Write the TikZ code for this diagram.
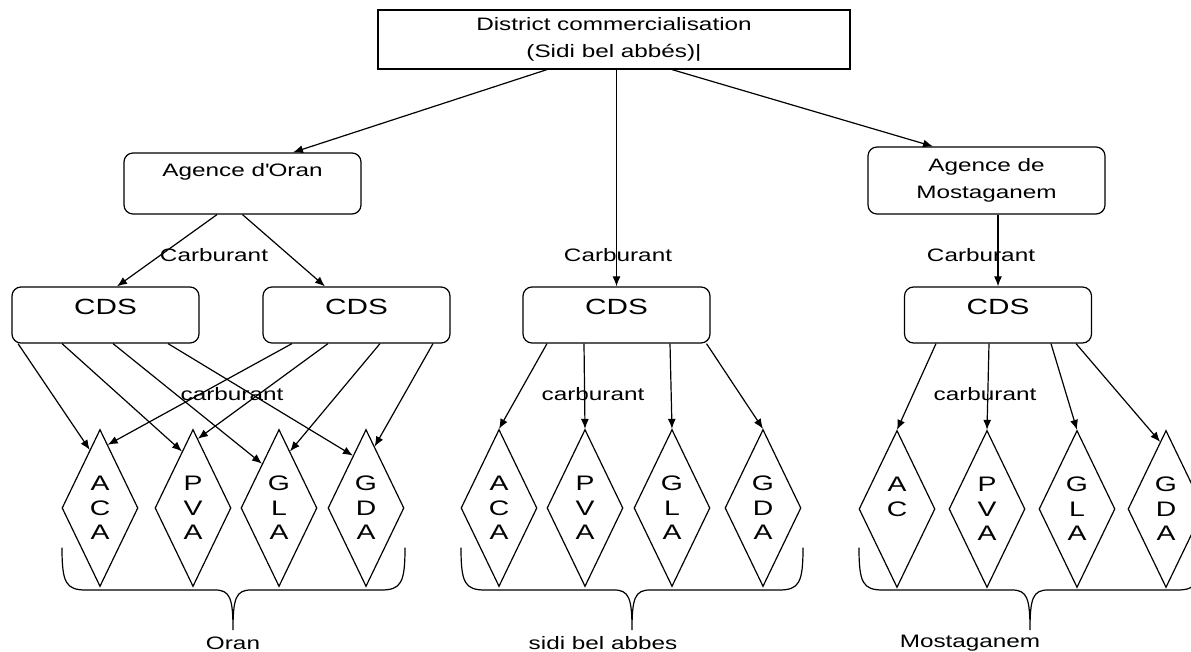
\documentclass[tikz,border=0pt]{standalone}
\usepackage{fontspec}
\setmainfont{Liberation Sans}[FakeStretch=1.35]
\usetikzlibrary{shapes.geometric,arrows.meta}

\newcommand\txtfont{\fontsize{18}{27}\selectfont}
\newcommand\cdsfont{\fontsize{22}{26}\selectfont}
\newcommand\diafont{\fontsize{21}{24.5}\selectfont}

\begin{document}
\begin{tikzpicture}[x=1pt,y=-1pt]
    \tikzset{
        flow/.style={-{Latex[length=10pt,width=8pt]}, line width=1.2pt},
        office/.style={draw, line width=1.2pt, rounded corners=9pt, minimum width=237pt, font=\txtfont},
        depot/.style={draw, line width=1.2pt, rounded corners=9pt, minimum width=187pt, minimum height=56pt,
                      font=\cdsfont, text height=16pt, text depth=18pt},
        station/.style={diamond, draw, line width=1.2pt, aspect=0.48, minimum width=76pt, minimum height=157pt,
                        inner sep=0pt, align=center, font=\diafont},
        tag/.style={font=\txtfont},
        bracket/.style={line width=1.2pt, line cap=round},
    }
    \useasboundingbox (0,0) rectangle (1191,652);

    % Boxes
    \node[draw, line width=1.2pt, minimum width=472pt, minimum height=59pt, font=\txtfont, align=center]
        (district) at (614,39.5) {District commercialisation\\(Sidi bel abbés)|};
    \node[office, minimum height=61pt, inner sep=2pt, text height=13pt, text depth=26pt]
        (agO) at (242.5,183.5) {Agence d\textquotesingle Oran};
    \node[office, align=center, minimum height=67pt] (agM) at (986.5,180.5) {Agence de\\Mostaganem};

    \node[depot] (cdsA) at (105.5,315) {CDS};
    \node[depot] (cdsB) at (356.5,315) {CDS};
    \node[depot] (cdsS) at (616.5,315) {CDS};
    \node[depot] (cdsM) at (998,315) {CDS};

    % Diamonds
    \node[station] (acaO) at (100,508) {A\\C\\A};
    \node[station] (pvaO) at (193,508) {P\\V\\A};
    \node[station] (glaO) at (279,508) {G\\L\\A};
    \node[station] (gdaO) at (366,508) {G\\D\\A};

    \node[station] (acaS) at (499,508) {A\\C\\A};
    \node[station] (pvaS) at (585,508) {P\\V\\A};
    \node[station] (glaS) at (672,508) {G\\L\\A};
    \node[station] (gdaS) at (763,508) {G\\D\\A};

    \node[station] (acM)  at (897,509) {A\\C\\\phantom{A}};
    \node[station] (pvaM) at (987,509) {P\\V\\A};
    \node[station] (glaM) at (1077,509) {G\\L\\A};
    \node[station] (gdaM) at (1166,509) {G\\D\\A};

    % Labels
    \node[tag] (carbO) at (214,255) {Carburant};
    \node[tag] (carbS) at (618,255) {Carburant};
    \node[tag] (carbM) at (981,255) {Carburant};
    \node[tag] (subO) at (232,394) {carburant};
    \node[tag] (subS) at (593,394) {carburant};
    \node[tag] (subM) at (985,394) {carburant};
    \node[tag] (oran) at (233,643) {Oran};
    \node[tag] (sba)  at (603,643) {sidi bel abbes};
    \node[tag] (most) at (970,643) {Mostaganem};

    % Arrows
    \draw[flow] ([xshift=-67pt]district.south) -- ([xshift=50.5pt]agO.north);
    \draw[flow] (cdsS.north |- district.south) -- (cdsS.north);
    \draw[flow] ([xshift=58pt]district.south) -- ([xshift=-53.5pt]agM.north);
    \draw[flow] ([xshift=-25.5pt]agO.south) -- ([xshift=11.5pt]cdsA.north);
    \draw[flow] (agO.south) -- ([xshift=-31.5pt]cdsB.north);
    \draw[flow] (cdsM.north |- agM.south) -- (cdsM.north);

    \draw[flow] ([xshift=-87.5pt]cdsA.south) -- (acaO.100);
    \draw[flow] ([xshift=-43.5pt]cdsA.south) -- (pvaO.101);
    \draw[flow] ([xshift=7.5pt]cdsA.south) -- (glaO.111);
    \draw[flow] ([xshift=62.5pt]cdsA.south) -- (gdaO.104);
    \draw[flow] ([xshift=-64.5pt]cdsB.south) -- (acaO.83);
    \draw[flow] ([xshift=-28.5pt]cdsB.south) -- (pvaO.86);
    \draw[flow] ([xshift=23.5pt]cdsB.south) -- (glaO.79);
    \draw[flow] ([xshift=76.5pt]cdsB.south) -- (gdaO.82);

    \draw[flow] ([xshift=-69.5pt]cdsS.south) -- (acaS.north);
    \draw[flow] ([xshift=-32.5pt]cdsS.south) -- (pvaS.north);
    \draw[flow] ([xshift=53.5pt]cdsS.south) -- (glaS.north);
    \draw[flow] ([xshift=90pt]cdsS.south) -- (gdaS.north);

    \draw[flow] ([xshift=-62pt]cdsM.south) -- (acM.north);
    \draw[flow] ([xshift=-9pt]cdsM.south) -- (pvaM.north);
    \draw[flow] ([xshift=53pt]cdsM.south) -- (glaM.north);
    \draw[flow] ([xshift=78pt]cdsM.south) -- (gdaM.95);

    % Braces
    \foreach \l/\m/\r in {62/233/405, 461/632/803, 859/1030/1201}
        \draw[bracket] (\l,548) .. controls (\l,583) and (\l+4,590) .. (\l+24,590) -- (\m-18,590)
            .. controls (\m-3,590) and (\m,598) .. (\m,630)
            .. controls (\m,598) and (\m+3,590) .. (\m+18,590) -- (\r-24,590)
            .. controls (\r-4,590) and (\r,583) .. (\r,548);
\end{tikzpicture}
\end{document}
